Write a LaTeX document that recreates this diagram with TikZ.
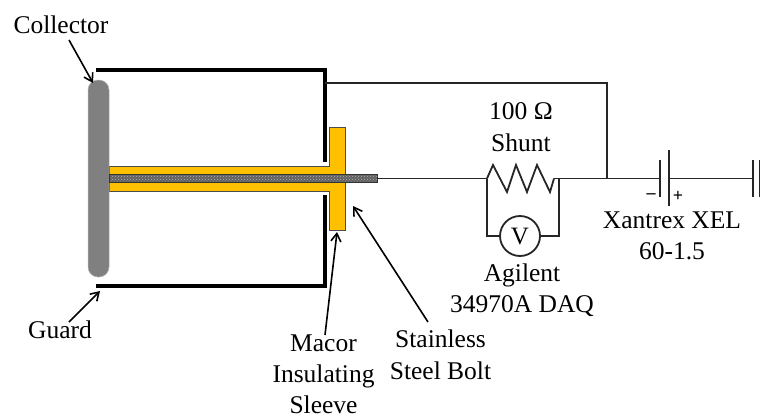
\documentclass[tikz,border=0pt]{standalone}
\usepackage{fontspec}
\setmainfont{Liberation Serif}
\usetikzlibrary{arrows.meta,patterns,calc}
\definecolor{sleevecol}{HTML}{FFC000}
\definecolor{platecol}{HTML}{808080}
\tikzset{
  lbl/.style={inner sep=0pt,align=center,font=\fontsize{25.5}{31.5}\selectfont},
  sign/.style={inner sep=0pt,font=\fontsize{18}{18}\selectfont\bfseries},
  cup/.style={line width=3.2pt,line cap=rect,black},
  wire/.style={line width=1.8pt,black!85},
  plate/.style={line width=2pt,black!85},
  pointer/.style={line width=1.6pt,black,-{Straight Barb[length=8pt,width=10pt,line width=1.6pt]}},
  meter/.style={circle,draw=black!85,line width=1.8pt,fill=white,minimum size=40pt,inner sep=0pt,font=\fontsize{25}{25}\selectfont},
}
\begin{document}
\begin{tikzpicture}[x=1pt,y=-1pt]
\useasboundingbox (0,0) rectangle (760,418);
% sleeve
\path[fill=sleevecol,draw=black!70,line width=.9pt]
  (109,166) -- (329,166) -- (329,127) -- (345,127) -- (345,230) -- (329,230) -- (329,191) -- (109,191) -- cycle;
% collector
\node[rounded corners=10pt,fill=platecol,draw=black!30,line width=.5pt,minimum width=21pt,minimum height=197pt,inner sep=0pt] (collector) at (98.5,178.5) {};
% bolt
\node[preaction={fill=black!62},pattern=crosshatch dots,pattern color=white!70!black,draw=black!80,line width=.9pt,minimum width=268pt,minimum height=8pt,inner sep=0pt] (bolt) at (243,178.5) {};
% guard cup
\coordinate (gt) at (98,70);
\coordinate (gtr) at (325,70);
\coordinate (gti) at (325,160);
\coordinate (gb) at (98,286);
\coordinate (gbr) at (325,286);
\coordinate (gbi) at (325,197);
\draw[cup] (gt) -- (gtr) -- (gti);
\draw[cup] (gb) -- (gbr) -- (gbi);
% circuit
\coordinate (tap) at (325,83);
\coordinate (tapc) at (607,83);
\coordinate (jct) at (607,178.5);
\coordinate (rl) at (487,178.5);
\coordinate (rr) at (554,178.5);
\coordinate (ml) at (487,236);
\coordinate (mr) at (559,236);
\coordinate (mt) at (559,178.5);
\coordinate (b1) at (660,178.5);
\coordinate (b2) at (669,178.5);
\coordinate (b3) at (753,178.5);
\node[meter] (meter) at (520,236) {V};
\draw[wire] (tap) -- (tapc) -- (jct);
\draw[wire] (bolt.east) -- (rl);
\draw[wire,line join=miter] (rl) -- (493,165) -- (507,192) -- (516,165) -- (527,192) -- (537,165) -- (550,192) -- (rr);
\draw[wire] (rr) -- (b1);
\draw[wire] (b2) -- (b3);
\draw[wire] (rl) -- (ml) -- (meter.west);
\draw[wire] (mt) -- (mr) -- (meter.east);
\draw[plate] (660,160) -- (660,197);
\draw[plate] (669,150) -- (669,206);
\draw[plate] (753,160) -- (753,197);
\draw[line width=3pt,black!85] (760,160) -- (760,197);
\node[sign] (minus) at (651,196) {–};
\node[sign] (plus) at (678,196) {+};
% labels
\node[lbl] (lcoll) at (61,25) {Collector};
\node[lbl] (lguard) at (60,330) {Guard};
\node[lbl,font=\fontsize{25.5}{31}\selectfont] (lmacor) at (323.5,374) {Macor\\Insulating\\Sleeve};
\node[lbl] (lbolt) at (440.5,355) {Stainless\\Steel Bolt};
\node[lbl] (lshunt) at (521,127) {100 Ω\\Shunt};
\node[lbl] (lagil) at (522,290) {Agilent\\34970A DAQ};
\node[lbl] (lxan) at (672,236) {Xantrex XEL\\60-1.5};
% pointers
\coordinate (pc) at (93,83);
\coordinate (pg) at (100,291);
\coordinate (pm) at (337,232);
\coordinate (pb) at (353,206);
\draw[pointer] (69,40) -- (pc);
\draw[pointer] (69,322) -- (pg);
\draw[pointer] (325,335) -- (pm);
\draw[pointer] (428,322) -- (pb);
\end{tikzpicture}
\end{document}
